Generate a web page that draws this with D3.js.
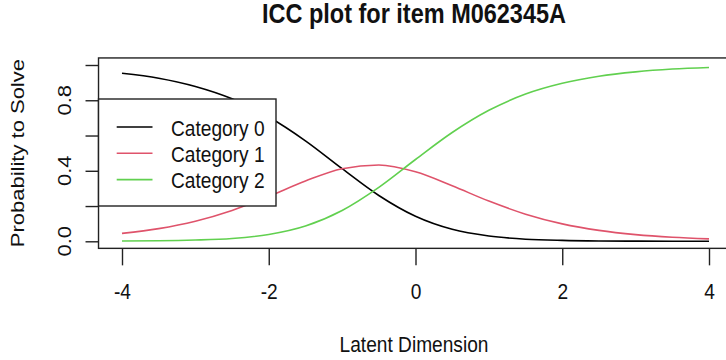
<!DOCTYPE html>
<html>

<head>
    <meta charset="utf-8">
    <script src="https://d3js.org/d3.v7.min.js"></script>

    <style type="text/css">
        body {
            margin: 0;
            background: white;
        }

        text {
            font-family: "Liberation Sans", Arial, sans-serif;
            fill: #111;
        }

        .axis path,
        .axis line {
            fill: none;
            stroke: #222;
            stroke-width: 1.4px;
        }

        .axis text {
            font-size: 22px;
        }

        path.curva {
            fill: none;
            stroke-width: 1.6px;
        }
    </style>
</head>

<body>
    <script>
        // valores
        let theta = [-4, -3.5, -3, -2.5, -2, -1.5, -1, -0.5, 0, 0.5, 1, 1.5, 2, 2.5, 3, 3.5, 4];
        let cat0 = [0.953, 0.925, 0.878, 0.808, 0.705, 0.570, 0.412, 0.260, 0.142, 0.068, 0.030, 0.012, 0.005, 0.002, 0.001, 0.0005, 0.0002];
        let cat1 = [0.045, 0.072, 0.114, 0.175, 0.255, 0.342, 0.412, 0.433, 0.394, 0.315, 0.228, 0.154, 0.099, 0.062, 0.038, 0.023, 0.014];
        let cat2 = [0.002, 0.003, 0.007, 0.016, 0.039, 0.087, 0.175, 0.306, 0.464, 0.617, 0.743, 0.835, 0.896, 0.936, 0.961, 0.977, 0.986];

        let categorias = ["Category 0", "Category 1", "Category 2"];
        let cores = ["#000000", "#DF536B", "#61D04F"];
        let x_ticks = [-4, -2, 0, 2, 4];
        let y_ticks = [0, 0.2, 0.4, 0.6, 0.8, 1];
        let y_labels = [0, 0.4, 0.8];

        let width = 726;
        let height = 360;
        let sx = 0.87; // texto um pouco "apertado" na horizontal

        let svg = d3.select('body').append('svg')
            .attr('width', width)
            .attr('height', height);

        // escalas
        let x_scale = d3.scaleLinear()
            .domain([-4, 4])
            .range([122, 709]);

        let y_scale = d3.scaleLinear()
            .domain([0, 1])
            .range([241.3, 65]);

        // caixa do grafico (4% extra como no R)
        let bx0 = x_scale(-4.32), bx1 = x_scale(4.32);
        let by0 = y_scale(1.04), by1 = y_scale(-0.04);

        svg.append("rect")
            .attr("x", bx0)
            .attr("y", by0)
            .attr("width", bx1 - bx0)
            .attr("height", by1 - by0)
            .attr("fill", "none")
            .attr("stroke", "#222")
            .attr("stroke-width", 1.4);

        // X Axis
        let x_axis = d3.axisBottom(x_scale)
            .tickValues(x_ticks)
            .tickSize(17)
            .tickPadding(18)
            .tickFormat(d3.format("d"));

        let gx = svg.append("g")
            .attr("class", "x axis")
            .attr("transform", "translate(0," + by1 + ")")
            .call(x_axis);
        gx.select(".domain").remove();
        gx.selectAll("text")
            .text(function (d) { return String(d).replace("\u2212", "-"); })
            .attr("transform", "scale(" + sx + ",1)");

        // Y Axis
        let y_axis = d3.axisLeft(y_scale)
            .tickValues(y_ticks)
            .tickSize(13)
            .tickFormat("");

        let gy = svg.append("g")
            .attr("class", "y axis")
            .attr("transform", "translate(" + bx0 + ",0)")
            .call(y_axis);
        gy.select(".domain").remove();

        svg.selectAll("text.ylab")
            .data(y_labels)
            .enter()
            .append("text")
            .attr("class", "ylab")
            .attr("text-anchor", "middle")
            .style("font-size", "22px")
            .attr("transform", function (d) {
                return "translate(71," + y_scale(d) + ") scale(" + sx + ",1) rotate(-90)";
            })
            .text(function (d) { return d3.format(".1f")(d); });

        // curvas
        let series = [cat0, cat1, cat2];
        series.forEach(function (vals, k) {
            let pts = theta.map(function (t, i) { return [t, vals[i]]; });
            let line = d3.line()
                .x(function (d) { return x_scale(d[0]); })
                .y(function (d) { return y_scale(d[1]); })
                .curve(d3.curveMonotoneX);
            svg.append("path")
                .attr("class", "curva")
                .attr("d", line(pts))
                .attr("stroke", cores[k]);
        });

        // legenda
        let leg = svg.append("g");
        leg.append("rect")
            .attr("x", bx0)
            .attr("y", 99)
            .attr("width", 276 - bx0)
            .attr("height", 107)
            .attr("fill", "white")
            .attr("stroke", "#222")
            .attr("stroke-width", 1.4);

        categorias.forEach(function (c, k) {
            let ly = 127 + k * 26.3;
            leg.append("line")
                .attr("x1", 116.7)
                .attr("x2", 152.5)
                .attr("y1", ly)
                .attr("y2", ly)
                .attr("stroke", cores[k])
                .attr("stroke-width", 1.6);
            leg.append("text")
                .attr("transform", "translate(171," + (ly + 8.5) + ") scale(" + sx + ",1)")
                .style("font-size", "22px")
                .text(c);
        });

        // titulos
        svg.append("text")
            .attr("transform", "translate(414,23.3) scale(" + sx + ",1)")
            .attr("text-anchor", "middle")
            .style("font-size", "27px")
            .style("font-weight", "bold")
            .text("ICC plot for item M062345A");

        svg.append("text")
            .attr("transform", "translate(414,351.7) scale(" + sx + ",1)")
            .attr("text-anchor", "middle")
            .style("font-size", "22px")
            .text("Latent Dimension");

        svg.append("text")
            .attr("transform", "translate(23.5," + ((by0 + by1) / 2) + ") scale(" + sx + ",1) rotate(-90)")
            .attr("text-anchor", "middle")
            .style("font-size", "22px")
            .text("Probability to Solve");
    </script>
</body>

</html>
